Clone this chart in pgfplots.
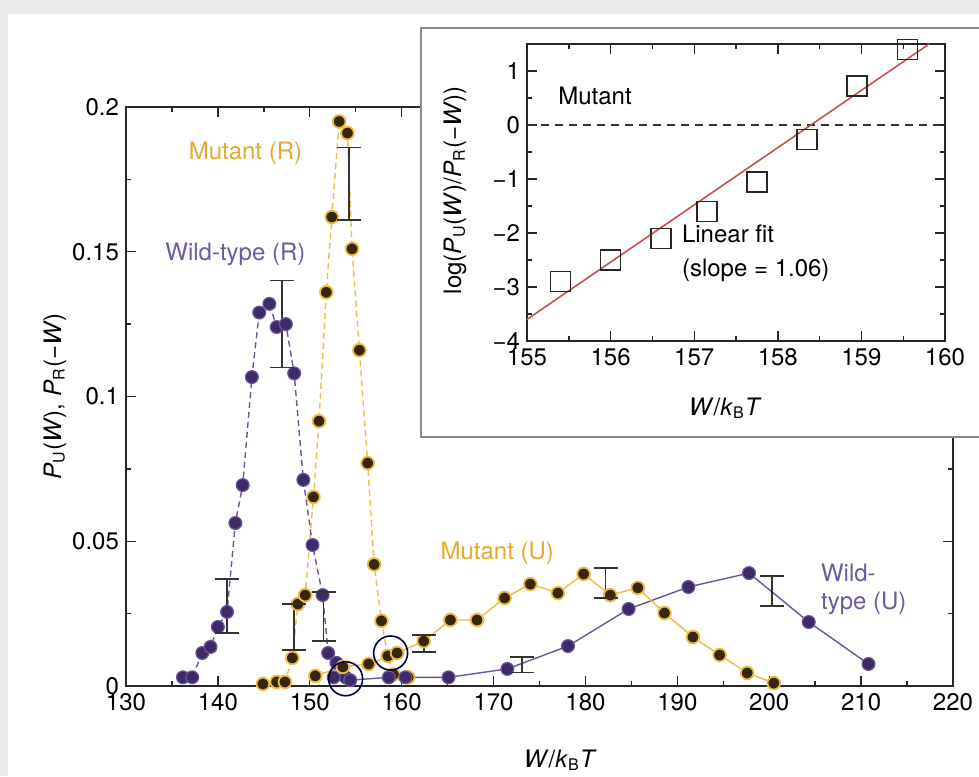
\documentclass[border=0pt]{standalone}
\usepackage{pgfplots}
\pgfplotsset{compat=1.18}
\usepackage{fontspec}
\setmainfont{TeX Gyre Heros}

\definecolor{bggray}{RGB}{235,235,235}
\definecolor{mutline}{RGB}{236,190,70}
\definecolor{mutfill}{RGB}{55,38,12}
\definecolor{mutlabel}{RGB}{228,170,40}
\definecolor{wtline}{RGB}{105,85,155}
\definecolor{wtfill}{RGB}{62,42,105}
\definecolor{wtlabel}{RGB}{110,90,160}
\definecolor{fitred}{RGB}{200,80,80}
\definecolor{framegray}{RGB}{140,140,140}

\newcommand{\lab}{\fontsize{12}{14}\selectfont}

\pgfplotsset{
  myaxis/.style={
    scale only axis, clip=false,
    tick align=inside, major tick length=5pt, minor tick length=2.5pt,
    axis line style={line width=0.8pt, black!85},
    every tick/.style={black!85, line width=0.7pt},
    tick label style={font=\lab},
    label style={font=\lab},
    /pgf/number format/assume math mode=true,
  },
  mut/.style={mutline, line width=0.7pt, mark=*, mark size=3.2pt,
    mark options={solid, fill=mutfill, draw=mutline, line width=0.9pt}},
  wt/.style={wtline, line width=0.7pt, mark=*, mark size=3.2pt,
    mark options={solid, fill=wtfill, draw=wtline, line width=0.6pt}},
  ebar/.style={black!80, line width=0.8pt, mark=-, mark size=6pt,
    mark options={solid, line width=0.8pt}, forget plot},
}

\begin{document}
\begin{tikzpicture}
\fill[bggray] (0,0) rectangle (489.5pt,388pt);
\fill[white] (4pt,0) rectangle (489.5pt,381pt);

\begin{axis}[myaxis,
  at={(63pt,45pt)}, anchor=south west,
  width=413.5pt, height=289.5pt,
  xmin=130, xmax=220, ymin=0, ymax=0.2,
  xtick={130,140,...,220}, minor x tick num=1,
  ytick={0,0.05,0.1,0.15,0.2}, yticklabels={0,0.05,0.1,0.15,0.2},
  minor y tick num=1,
  xlabel={\textit{W}/\textit{k}\textsubscript{B}\textit{T}},
  ylabel={\textit{P}\textsubscript{U}(\textit{W}), \textit{P}\textsubscript{R}(−\textit{W})},
  xlabel style={at={(axis description cs:0.525,-0.128)}, anchor=center},
  ylabel style={at={(axis description cs:-0.086,0.5)}, anchor=center},
]
% mutant (R)
\addplot[mut, dashed, dash pattern=on 3pt off 2pt] coordinates {
 (144.9,0.0007) (146.4,0.0014) (147.3,0.0014) (148.1,0.0097) (148.7,0.0283)
 (149.5,0.0314) (150.4,0.0653) (151.0,0.0915) (151.8,0.136) (152.4,0.162)
 (153.2,0.195) (154.1,0.191) (154.6,0.151) (155.4,0.116) (156.3,0.077)
 (157.0,0.042) (157.8,0.0225) (158.5,0.0104) (159.1,0.004) (160.7,0.003)
};
% wild-type (R)
\addplot[wt, dashed, dash pattern=on 3pt off 2pt] coordinates {
 (136.2,0.003) (137.2,0.003) (138.3,0.0114) (139.2,0.0135) (140.0,0.0204)
 (141.0,0.0256) (141.9,0.0563) (142.7,0.0694) (143.7,0.1067) (144.5,0.129)
 (145.6,0.132) (146.4,0.124) (147.4,0.125) (148.3,0.108) (149.3,0.0712)
 (150.3,0.0487) (151.4,0.0314) (152.0,0.0114) (152.9,0.008) (153.9,0.003)
};
% wild-type (U)
\addplot[wt] coordinates {
 (152.6,0.003) (154.4,0.002) (158.6,0.003) (160.4,0.003) (165.1,0.003)
 (171.5,0.0059) (178.1,0.0138) (184.7,0.0266) (191.2,0.0342) (197.8,0.039)
 (204.3,0.0221) (210.8,0.0076)
};
% mutant (U)
\addplot[mut] coordinates {
 (150.6,0.0035) (153.6,0.0066) (156.4,0.0076) (159.5,0.0114) (162.4,0.0155)
 (165.3,0.0228) (168.2,0.0228) (171.2,0.0304) (174.0,0.0352) (177.0,0.0321)
 (179.8,0.0387) (182.7,0.0314) (185.7,0.0339) (188.6,0.0252) (191.7,0.0169)
 (194.6,0.0107) (197.6,0.0045) (200.5,0.001)
};
% error bars (low end, high end)
\addplot[ebar] coordinates {(154.3,0.161) (154.3,0.186)};
\addplot[ebar] coordinates {(147.0,0.110) (147.0,0.140)};
\addplot[ebar] coordinates {(141.0,0.0184) (141.0,0.037)};
\addplot[ebar] coordinates {(148.3,0.0124) (148.3,0.0284)};
\addplot[ebar] coordinates {(151.5,0.0155) (151.5,0.0325)};
\addplot[ebar] coordinates {(162.4,0.0117) (162.4,0.0177)};
\addplot[ebar] coordinates {(173.1,0.0046) (173.1,0.0100)};
\addplot[ebar] coordinates {(182.2,0.0304) (182.2,0.0408)};
\addplot[ebar] coordinates {(200.3,0.0276) (200.3,0.0380)};
% crossing circles
\addplot[only marks, mark=o, mark size=8.5pt,
  mark options={draw=black!75!blue, line width=0.8pt}] coordinates {
 (153.9,0.0025) (158.8,0.0114)
};
\node[font=\lab, text=mutlabel] at (axis cs:143.0,0.184) {Mutant (R)};
\node[font=\lab, text=wtlabel] at (axis cs:141.9,0.149) {Wild-type (R)};
\node[font=\lab, text=mutlabel] at (axis cs:170.4,0.046) {Mutant (U)};
\node[font=\lab, text=wtlabel, align=left, anchor=west, inner sep=0pt]
  at (axis cs:205.6,0.0335) {Wild-\\type (U)};
\end{axis}

% inset frame
\filldraw[fill=white, draw=framegray, line width=1pt]
  (210.5pt,169.5pt) rectangle (495pt,374pt);

\begin{axis}[myaxis,
  at={(263.5pt,217.5pt)}, anchor=south west,
  width=209pt, height=148.5pt,
  xmin=155, xmax=160, ymin=-4, ymax=1.5,
  xtick={155,...,160}, minor x tick num=1,
  ytick={-4,-3,-2,-1,0,1}, yticklabels={−4,−3,−2,−1,0,1},
  minor y tick num=1,
  xlabel={\textit{W}/\textit{k}\textsubscript{B}\textit{T}},
  ylabel={log(\textit{P}\textsubscript{U}(\textit{W})/\textit{P}\textsubscript{R}(−\textit{W}))},
  xlabel style={at={(axis description cs:0.474,-0.226)}, anchor=center},
  ylabel style={at={(axis description cs:-0.172,0.508)}, anchor=center},
]
\addplot[black!80, dashed, line width=0.8pt, dash pattern=on 4pt off 3pt] coordinates {(155,0) (160,0)};
\addplot[fitred, line width=0.8pt] coordinates {(155,-3.6) (159.81,1.5)};
\addplot[only marks, mark=square, mark size=5pt,
  mark options={draw=black!85, line width=0.8pt}] coordinates {
 (155.4,-2.9) (156.0,-2.5) (156.6,-2.1) (157.15,-1.6)
 (157.75,-1.05) (158.35,-0.27) (158.95,0.72) (159.55,1.4)
};
\node[font=\lab, anchor=west, inner sep=0pt] at (axis cs:155.37,0.54) {Mutant};
\node[font=\lab, anchor=west, inner sep=0pt, align=left] at (axis cs:156.85,-2.38)
  {Linear fit\\[3pt](slope = 1.06)};
\end{axis}

\pgfresetboundingbox
\path (0,0) rectangle (489.5pt,388pt);
\end{tikzpicture}
\end{document}
